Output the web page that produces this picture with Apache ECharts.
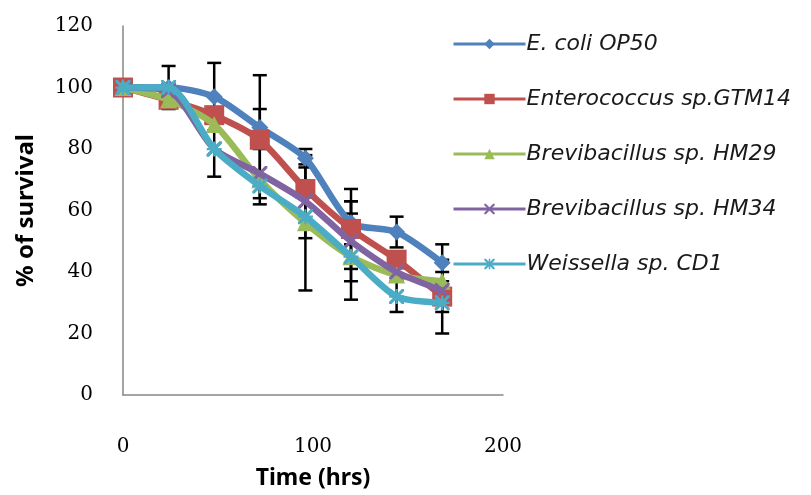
<!DOCTYPE html>
<html>
<head>
<meta charset="utf-8">
<script src="https://cdn.jsdelivr.net/npm/echarts@6/dist/echarts.min.js"></script>
<style>
  html, body { margin: 0; padding: 0; background: #fff; }
  #chart { width: 811px; height: 495px; }
</style>
</head>
<body>
<div id="chart"></div>
<script>
// time points (hrs)
const hours = [0, 24, 48, 72, 96, 120, 144, 168]

// % survival per strain
const ecoli = [100, 100, 97, 87, 77, 56, 53, 43]
const entero = [100, 96, 91, 83, 67, 54, 44, 32]
const hm29 = [100, 96, 88, 70, 56, 45, 39, 37]
const hm34 = [100, 99, 80, 72, 63, 50, 40, 34]
const weiss = [100, 100, 80, 68, 58, 45, 32, 30]

// error bar half-widths (0 = not visible in the figure)
const ecoliErr = [0, 7, 11, 6, 3, 7, 5, 6]
const enteroErr = [0, 0, 0, 21, 0, 13, 0, 12]
const hm29Err = [0, 0, 0, 0, 22, 0, 0, 3]
const hm34Err = [0, 0, 9, 8, 12, 13, 0, 0]
const weissErr = [0, 0, 0, 0, 0, 14, 5, 3]

const names = ['E. coli OP50', 'Enterococcus sp.GTM14', 'Brevibacillus sp. HM29', 'Brevibacillus sp. HM34', 'Weissella sp. CD1']
const colors = ['#4F81BD', '#C0504D', '#9BBB59', '#8064A2', '#4BACC6']

const crossPath = 'path://M0,0L3,0L10,7L17,0L20,0L20,3L13,10L20,17L20,20L17,20L10,13L3,20L0,20L0,17L7,10L0,3Z'
const starPath = 'path://M0,0L3,0L10,7L17,0L20,0L20,3L13,10L20,17L20,20L17,20L10,13L3,20L0,20L0,17L7,10L0,3Z M8.5,0L11.5,0L11.5,20L8.5,20Z M0,8.5L20,8.5L20,11.5L0,11.5Z'
const symbols = ['diamond', 'rect', 'triangle', crossPath, starPath]
const symbolSizes = [17, 20, 17, 15, 15]

const values = [ecoli, entero, hm29, hm34, weiss]
const errs = [ecoliErr, enteroErr, hm29Err, hm34Err, weissErr]

const chart = echarts.init(document.getElementById('chart'))

let series = []
for (let s = 0; s < values.length; s++) {
  let barData = []
  for (let i = 0; i < hours.length; i++) {
    if (errs[s][i] > 0) barData.push([hours[i], values[s][i], errs[s][i]])
  }
  series.push({
    type: 'custom',
    name: names[s] + ' err',
    z: 1,
    silent: true,
    data: barData,
    renderItem: function (params, api) {
      const x = api.value(0), y = api.value(1), e = api.value(2)
      const top = api.coord([x, y + e])
      const bot = api.coord([x, y - e])
      const w = 7
      const style = { stroke: '#000', lineWidth: 2.5 }
      return {
        type: 'group',
        children: [
          { type: 'line', shape: { x1: top[0], y1: top[1], x2: bot[0], y2: bot[1] }, style: style },
          { type: 'line', shape: { x1: top[0] - w, y1: top[1], x2: top[0] + w, y2: top[1] }, style: style },
          { type: 'line', shape: { x1: bot[0] - w, y1: bot[1], x2: bot[0] + w, y2: bot[1] }, style: style }
        ]
      }
    }
  })
}
for (let s = 0; s < values.length; s++) {
  series.push({
    type: 'line',
    name: names[s],
    z: 2 + s,
    smooth: 0.25,
    data: hours.map((h, i) => [h, values[s][i]]),
    symbol: symbols[s],
    symbolSize: symbolSizes[s],
    showAllSymbol: true,
    color: colors[s],
    lineStyle: { color: colors[s], width: 6.5 },
    itemStyle: { color: colors[s], borderWidth: 0 },
    animation: false
  })
}

const option = {
  animation: false,
  textStyle: { color: '#000' },
  grid: { left: 123, right: 308, top: 26, bottom: 100 },
  legend: {
    data: names,
    orient: 'vertical',
    left: 447,
    top: 28,
    itemWidth: 72,
    itemHeight: 13,
    itemGap: 33,
    lineStyle: { width: 3 },
    textStyle: { fontFamily: 'DejaVu Sans', fontStyle: 'italic', fontSize: 22, lineHeight: 22, color: '#1a1a1a', padding: [0, 0, 0, -4] }
  },
  xAxis: {
    type: 'value',
    min: 0,
    max: 200,
    interval: 100,
    name: 'Time (hrs)',
    nameLocation: 'middle',
    nameGap: 72,
    nameTextStyle: { fontFamily: 'Noto Sans', fontWeight: 'bold', fontSize: 23, color: '#000' },
    axisLine: { lineStyle: { color: '#868686', width: 1.5 } },
    axisTick: { show: false },
    splitLine: { show: false },
    axisLabel: { margin: 42, fontFamily: 'DejaVu Serif', fontSize: 20, color: '#000' }
  },
  yAxis: {
    type: 'value',
    min: 0,
    max: 120,
    interval: 20,
    name: '% of survival',
    nameLocation: 'middle',
    nameGap: 85,
    nameRotate: 90,
    nameTextStyle: { fontFamily: 'Noto Sans', fontWeight: 'bold', fontSize: 24, color: '#000' },
    axisLine: { show: true, lineStyle: { color: '#868686', width: 1.5 } },
    axisTick: { show: false },
    splitLine: { show: false },
    axisLabel: { margin: 30, fontFamily: 'DejaVu Serif', fontSize: 20, color: '#000' }
  },
  series: series
}
chart.setOption(option)
</script>
</body>
</html>
